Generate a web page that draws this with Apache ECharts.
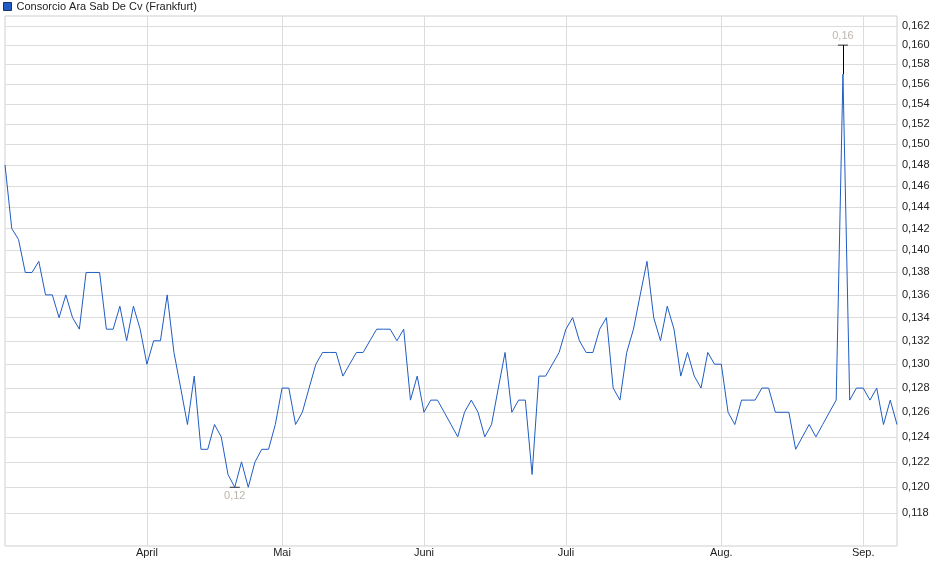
<!DOCTYPE html>
<html>
<head lang="de">
    <meta charset="UTF-8">
    <title>Consorcio Ara Sab De Cv (Frankfurt)</title>
    <style>
        html, body { margin: 0; padding: 0; background: #fff; }
    </style>
</head>
<body>
<div id="chart" style="width: 940px;height: 579px;"></div>
<script src="https://cdn.jsdelivr.net/npm/echarts@6/dist/echarts.min.js"></script>
<script>
// Handelstage Frankfurt (Maerz - Sep.)
var firstDay = '2025-03-03';
var lastDay = '2025-09-08';
var holidays = ['2025-04-18', '2025-04-21', '2025-05-01'];

// Schlusskurse
var closes = [
    0.148, 0.142, 0.141, 0.138, 0.138, 0.139, 0.136, 0.136, 0.134, 0.136,
    0.134, 0.133, 0.138, 0.138, 0.138, 0.133, 0.133, 0.135, 0.132, 0.135,
    0.133, 0.130, 0.132, 0.132, 0.136, 0.131, 0.128, 0.125, 0.129, 0.123,
    0.123, 0.125, 0.124, 0.121, 0.120, 0.122, 0.120, 0.122, 0.123, 0.123,
    0.125, 0.128, 0.128, 0.125, 0.126, 0.128, 0.130, 0.131, 0.131, 0.131,
    0.129, 0.130, 0.131, 0.131, 0.132, 0.133, 0.133, 0.133, 0.132, 0.133,
    0.127, 0.129, 0.126, 0.127, 0.127, 0.126, 0.125, 0.124, 0.126, 0.127,
    0.126, 0.124, 0.125, 0.128, 0.131, 0.126, 0.127, 0.127, 0.121, 0.129,
    0.129, 0.130, 0.131, 0.133, 0.134, 0.132, 0.131, 0.131, 0.133, 0.134,
    0.128, 0.127, 0.131, 0.133, 0.136, 0.139, 0.134, 0.132, 0.135, 0.133,
    0.129, 0.131, 0.129, 0.128, 0.131, 0.130, 0.130, 0.126, 0.125, 0.127,
    0.127, 0.127, 0.128, 0.128, 0.126, 0.126, 0.126, 0.123, 0.124, 0.125,
    0.124, 0.125, 0.126, 0.127, 0.157, 0.127, 0.128, 0.128, 0.127, 0.128,
    0.125, 0.127, 0.125
];

// Hoch / Tief Markierungen
var highDay = 124, highFrom = 0.157, highValue = 0.160, highText = '0,16';
var lowDay = 34, lowValue = 0.120, lowText = '0,12';

var yTicks = [0.118, 0.120, 0.122, 0.124, 0.126, 0.128, 0.130, 0.132, 0.134, 0.136, 0.138,
    0.140, 0.142, 0.144, 0.146, 0.148, 0.150, 0.152, 0.154, 0.156, 0.158, 0.160, 0.162];
var monthNames = {4: 'April', 5: 'Mai', 6: 'Juni', 7: 'Juli', 8: 'Aug.', 9: 'Sep.'};

//Werktage ohne Feiertage
function tradingDays(from, to, skip) {
    var res = [];
    var d = new Date(from + 'T00:00:00Z');
    var end = new Date(to + 'T00:00:00Z');
    while (d <= end) {
        var s = d.toISOString().slice(0, 10);
        var wd = d.getUTCDay();
        if (wd !== 0 && wd !== 6 && skip.indexOf(s) < 0) res.push(s);
        d.setUTCDate(d.getUTCDate() + 1);
    }
    return res;
}
var days = tradingDays(firstDay, lastDay, holidays);

function monthOf(s) { return parseInt(s.slice(5, 7), 10); }
function isMonthStart(index) {
    return index > 0 && monthOf(days[index]) !== monthOf(days[index - 1]);
}

var chart = echarts.init(document.getElementById('chart'));
var font = 'Arial, "Liberation Sans", sans-serif';

var option = {
    animation: false,
    legend: {
        left: 3,
        top: 1,
        padding: 0,
        icon: 'rect',
        itemWidth: 8,
        itemHeight: 8,
        itemGap: 5,
        itemStyle: { borderColor: '#16336e', borderWidth: 1 },
        textStyle: { fontFamily: font, fontSize: 11, color: '#222' },
        data: ['Consorcio Ara Sab De Cv (Frankfurt)']
    },
    grid: {
        left: 5,
        right: 43,
        top: 16,
        bottom: 33,
        show: true,
        borderColor: '#cfcfcf',
        borderWidth: 1
    },
    xAxis: {
        type: 'category',
        data: days,
        boundaryGap: false,
        axisLine: { show: false },
        axisTick: { show: false },
        axisLabel: {
            interval: function (i) { return isMonthStart(i); },
            formatter: function (v) { return monthNames[monthOf(v)] || ''; },
            margin: 1,
            fontFamily: font,
            fontSize: 11,
            color: '#222'
        },
        splitLine: {
            show: true,
            interval: function (i) { return isMonthStart(i); },
            lineStyle: { color: '#dcdcdc', width: 1 }
        }
    },
    yAxis: {
        type: 'log',
        position: 'right',
        min: 0.1155,
        max: 0.16306,
        axisLine: { show: false },
        axisTick: { show: false, customValues: yTicks },
        axisLabel: {
            customValues: yTicks,
            margin: 5,
            fontFamily: font,
            fontSize: 11,
            color: '#222',
            formatter: function (v) { return v.toFixed(3).replace('.', ','); }
        },
        splitLine: { show: true, lineStyle: { color: '#dcdcdc', width: 1 } }
    },
    series: [
        {
            name: 'Consorcio Ara Sab De Cv (Frankfurt)',
            type: 'line',
            data: closes,
            showSymbol: false,
            symbol: 'none',
            lineStyle: { color: '#1f5cc4', width: 1 },
            itemStyle: { color: '#1f5cc4' },
            markLine: {
                silent: true,
                symbol: 'none',
                label: { show: false },
                lineStyle: { color: '#000', width: 1, type: 'solid' },
                data: [[
                    { coord: [days[highDay], highFrom] },
                    { coord: [days[highDay], highValue] }
                ]]
            }
        },
        {
            name: 'marks',
            type: 'scatter',
            symbol: 'rect',
            symbolSize: [10, 1],
            itemStyle: { color: '#000' },
            silent: true,
            data: [
                { value: [days[highDay], highValue], label: { formatter: highText, position: 'top' } },
                { value: [days[lowDay], lowValue], label: { formatter: lowText, position: 'bottom' } }
            ],
            label: {
                show: true,
                distance: 3,
                fontFamily: font,
                fontSize: 11,
                color: '#aaa397'
            }
        }
    ]
};
chart.setOption(option);
</script>
</body>
</html>
